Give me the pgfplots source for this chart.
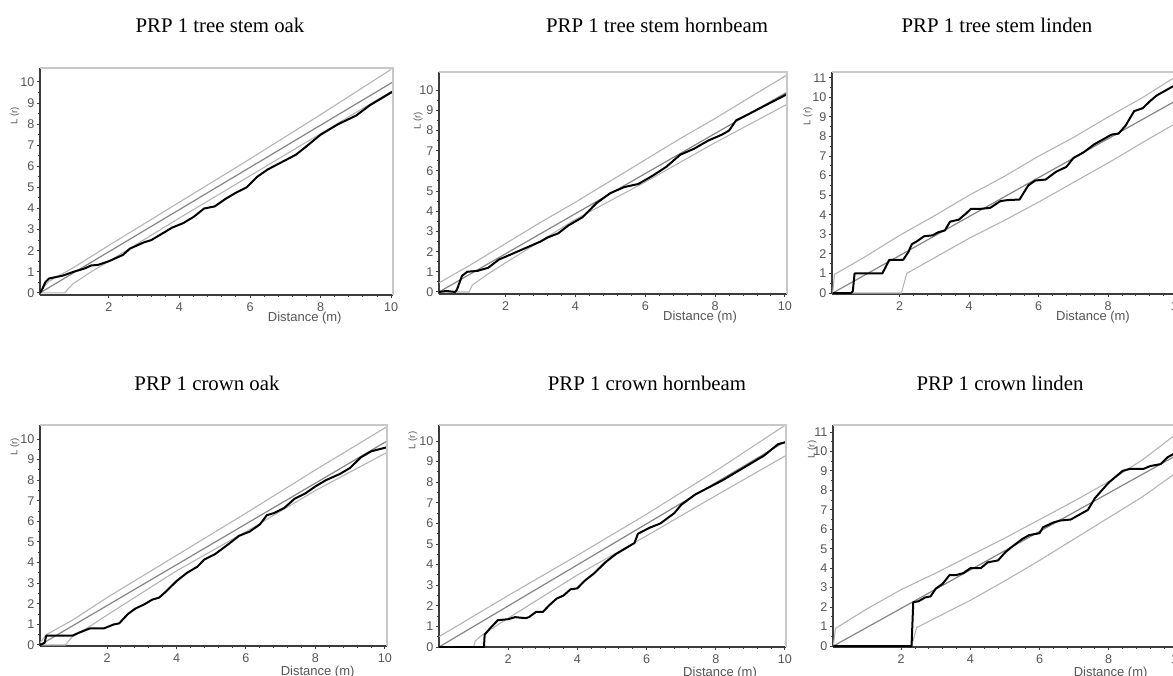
\documentclass[border=0pt]{standalone}
\usepackage{fontspec}
\setmainfont{Liberation Serif}
\newfontfamily\arialf{Liberation Sans}
\usepackage{pgfplots}
\pgfplotsset{compat=1.18}
\definecolor{env}{HTML}{B4B4B4}
\definecolor{expc}{HTML}{858585}
\definecolor{spine}{HTML}{3C3C3C}
\definecolor{lspine}{HTML}{C8C8C8}
\definecolor{tickc}{HTML}{555555}
\pgfplotsset{
  panel/.style={
    scale only axis,
    anchor=south west,
    axis x line*=bottom, axis y line*=left,
    axis line style={-, draw=spine, line width=0.9pt},
    tick align=outside,
    major tick length=1.6pt, minor tick length=0.9pt,
    every tick/.style={draw=spine, line width=0.5pt},
    xtick={2,4,6,8,10},
    minor x tick num=4,
    minor y tick num=1,
    /pgf/number format/assume math mode=true,
    tick label style={font=\arialf\fontsize{6.3}{7}\selectfont, text=tickc},
    xticklabel style={inner sep=1pt, yshift=-1.2pt},
    yticklabel style={inner sep=1pt},
    every axis x label/.style={font=\arialf\fontsize{6.5}{7}\selectfont, text=tickc, anchor=center},
    every axis y label/.style={font=\arialf\fontsize{4.8}{5}\selectfont, text=tickc, anchor=center, rotate=90},
    xlabel={Distance (m)}, ylabel={L (r)},
    clip=true,
    extra description/.code={\draw[lspine, line width=0.9pt] (axis description cs:0,1) -- (axis description cs:1,1) -- (axis description cs:1,0);},
  },
  envl/.style={env, line width=0.55pt},
  expl/.style={expc, line width=0.6pt},
  obsl/.style={black, line width=1.0pt, line join=round},
}
\begin{document}
\begin{tikzpicture}
\useasboundingbox (0,0) rectangle (586.5pt,337.5pt);
\clip (0,0) rectangle (586.5pt,337.5pt);
% titles
\node[font=\fontsize{10.4}{12}\selectfont] at (110pt,325pt) {PRP 1 tree stem oak};
\node[font=\fontsize{10.4}{12}\selectfont] at (328.5pt,325pt) {PRP 1 tree stem hornbeam};
\node[font=\fontsize{10.4}{12}\selectfont] at (498.5pt,325pt) {PRP 1 tree stem linden};
\node[font=\fontsize{10.4}{12}\selectfont] at (103.5pt,146pt) {PRP 1 crown oak};
\node[font=\fontsize{10.4}{12}\selectfont] at (323.5pt,146pt) {PRP 1 crown hornbeam};
\node[font=\fontsize{10.4}{12}\selectfont] at (500pt,146pt) {PRP 1 crown linden};

% ---------- Panel 1: tree stem oak
\begin{axis}[panel, at={(20pt,190pt)}, width=176.5pt, height=113.5pt,
  xmin=0.05, xmax=10.05, ymin=-0.1, ymax=10.66, ytick={0,1,...,10},
  xlabel style={at={(axis description cs:0.75,0)}, yshift=-11.5pt},
  ylabel style={at={(axis description cs:-0.071,0.79)}}]
\addplot[envl] coordinates {(0.05,0.05)(0.3,0.55)(1,1.2)(2,2.25)(4,4.3)(6,6.35)(8,8.45)(10,10.6)};
\addplot[envl] coordinates {(0.05,0)(0.75,0)(0.85,0.2)(1,0.45)(1.5,1.0)(2,1.5)(4,3.55)(6,5.55)(8,7.55)(10,9.55)};
\addplot[expl] coordinates {(0.05,0)(10.05,10.0)};
\addplot[obsl] coordinates {(0.05,0)(0.12,0.2)(0.2,0.5)(0.3,0.68)(0.5,0.75)(0.7,0.82)(1.0,1.0)(1.3,1.15)(1.5,1.3)(1.7,1.33)(2.0,1.5)(2.2,1.65)(2.4,1.8)(2.6,2.1)(2.8,2.25)(3.0,2.4)(3.2,2.5)(3.5,2.8)(3.8,3.1)(4.1,3.3)(4.4,3.6)(4.7,4.0)(5.0,4.1)(5.3,4.45)(5.6,4.75)(5.9,5.0)(6.2,5.5)(6.5,5.85)(6.9,6.2)(7.3,6.55)(7.6,6.95)(8.0,7.5)(8.5,8.0)(9.0,8.4)(9.4,8.9)(9.7,9.2)(10.05,9.55)};
\end{axis}

% ---------- Panel 2: tree stem hornbeam
\begin{axis}[panel, at={(219.5pt,190.5pt)}, width=174pt, height=111pt,
  xmin=0.09, xmax=10.06, ymin=-0.1, ymax=10.9, ytick={0,1,...,10},
  xlabel style={at={(axis description cs:0.75,0)}, yshift=-11.5pt},
  ylabel style={at={(axis description cs:-0.06,0.78)}}]
\addplot[envl] coordinates {(0.09,0.45)(1,1.35)(2,2.4)(3,3.45)(4,4.45)(5,5.5)(6,6.55)(7,7.6)(8,8.6)(9,9.65)(10.06,10.75)};
\addplot[envl] coordinates {(0.09,0)(0.95,0)(1.05,0.35)(1.5,0.9)(2,1.45)(4,3.6)(6,5.45)(8,7.4)(10.06,9.3)};
\addplot[expl] coordinates {(0.09,0)(10.06,9.9)};
\addplot[obsl] coordinates {(0.09,0)(0.3,0.05)(0.55,0.0)(0.6,0.1)(0.75,0.8)(0.9,1.0)(1.2,1.05)(1.5,1.2)(1.8,1.6)(2.2,1.9)(2.6,2.2)(3.0,2.5)(3.2,2.7)(3.5,2.9)(3.8,3.3)(4.2,3.7)(4.6,4.4)(5.0,4.9)(5.4,5.2)(5.8,5.35)(6.2,5.75)(6.6,6.2)(7.0,6.8)(7.4,7.1)(7.8,7.5)(8.2,7.8)(8.4,8.0)(8.6,8.5)(9.0,8.85)(9.5,9.3)(10.06,9.8)};
\end{axis}

% ---------- Panel 3: tree stem linden
\begin{axis}[panel, at={(416pt,190.5pt)}, width=174pt, height=111pt,
  xmin=0.05, xmax=10.07, ymin=-0.05, ymax=11.3, ytick={0,1,...,11},
  xlabel style={at={(axis description cs:0.75,0)}, yshift=-11.5pt},
  ylabel style={at={(axis description cs:-0.069,0.80)}}]
\addplot[envl] coordinates {(0.07,0)(0.12,0.95)(1,1.85)(2,2.95)(3,3.95)(4,5.0)(5,5.95)(6,7.0)(7,7.95)(8,9.0)(9,10.0)(10.07,11.2)};
\addplot[envl] coordinates {(0.07,0)(2.05,0)(2.2,1.0)(3,1.8)(4,2.8)(5,3.7)(6,4.65)(7,5.65)(8,6.65)(9,7.7)(10.07,8.8)};
\addplot[expl] coordinates {(0.07,0)(10.07,9.95)};
\addplot[obsl] coordinates {(0.07,0)(0.6,0)(0.65,0.1)(0.7,1.0)(1.5,1.0)(1.7,1.7)(2.1,1.7)(2.25,2.1)(2.35,2.5)(2.5,2.65)(2.7,2.9)(2.95,2.95)(3.1,3.1)(3.3,3.2)(3.45,3.65)(3.7,3.75)(3.9,4.05)(4.05,4.3)(4.3,4.3)(4.6,4.35)(4.9,4.7)(5.1,4.75)(5.45,4.78)(5.7,5.5)(5.9,5.75)(6.2,5.8)(6.5,6.2)(6.8,6.45)(7.0,6.9)(7.3,7.2)(7.6,7.6)(7.9,7.9)(8.1,8.1)(8.3,8.15)(8.5,8.55)(8.75,9.3)(9.0,9.45)(9.2,9.8)(9.4,10.1)(9.6,10.3)(9.8,10.5)(10.07,10.75)};
\end{axis}

% ---------- Panel 4: crown oak
\begin{axis}[panel, at={(20pt,14.5pt)}, width=173.5pt, height=110.5pt,
  xmin=0.07, xmax=10.06, ymin=-0.05, ymax=10.68, ytick={0,1,...,10},
  xlabel style={at={(axis description cs:0.80,0)}, yshift=-13pt},
  ylabel style={at={(axis description cs:-0.072,0.90)}}]
\addplot[envl] coordinates {(0.07,0.1)(0.25,0.5)(1,1.2)(2,2.3)(4,4.35)(6,6.4)(8,8.5)(10.06,10.6)};
\addplot[envl] coordinates {(0.07,0)(0.8,0)(1.0,0.4)(1.5,0.9)(2,1.45)(4,3.6)(6,5.5)(8,7.5)(10.06,9.35)};
\addplot[expl] coordinates {(0.07,0)(10.06,9.9)};
\addplot[obsl] coordinates {(0.07,0)(0.2,0.1)(0.25,0.45)(1.0,0.45)(1.2,0.6)(1.5,0.8)(1.9,0.8)(2.2,1.0)(2.35,1.05)(2.6,1.5)(2.8,1.75)(3.1,2.0)(3.3,2.2)(3.5,2.3)(3.7,2.6)(4.0,3.1)(4.3,3.5)(4.6,3.8)(4.8,4.15)(5.1,4.4)(5.5,4.9)(5.8,5.3)(6.1,5.5)(6.4,5.85)(6.6,6.3)(6.8,6.4)(7.1,6.65)(7.4,7.1)(7.7,7.35)(8.0,7.7)(8.3,8.0)(8.7,8.3)(9.0,8.6)(9.3,9.1)(9.6,9.4)(10.06,9.6)};
\end{axis}

% ---------- Panel 5: crown hornbeam
\begin{axis}[panel, at={(219.5pt,14pt)}, width=173.5pt, height=111pt,
  xmin=0, xmax=10.03, ymin=0, ymax=10.78, ytick={0,1,...,10},
  xlabel style={at={(axis description cs:0.81,0)}, yshift=-13pt},
  ylabel style={at={(axis description cs:-0.075,0.93)}}]
\addplot[envl] coordinates {(0,0.5)(1,1.5)(2,2.5)(4,4.45)(6,6.45)(8,8.55)(10.03,10.8)};
\addplot[envl] coordinates {(0,0)(1.0,0)(1.05,0.3)(1.3,0.65)(2,1.4)(4,3.5)(6,5.4)(8,7.35)(10.03,9.3)};
\addplot[expl] coordinates {(0,0)(10.03,10.0)};
\addplot[obsl] coordinates {(0,0)(1.3,0)(1.32,0.6)(1.5,0.95)(1.7,1.3)(2,1.35)(2.2,1.45)(2.5,1.4)(2.6,1.45)(2.8,1.7)(3.0,1.7)(3.2,2.05)(3.4,2.35)(3.6,2.5)(3.8,2.8)(4.0,2.85)(4.2,3.2)(4.5,3.6)(4.8,4.1)(5.1,4.5)(5.4,4.8)(5.65,5.05)(5.75,5.5)(6.1,5.8)(6.4,6.0)(6.8,6.5)(7.0,6.9)(7.4,7.4)(7.8,7.75)(8.2,8.1)(8.6,8.5)(9.0,8.9)(9.4,9.3)(9.8,9.85)(10.03,9.95)};
\end{axis}

% ---------- Panel 6: crown linden
\begin{axis}[panel, at={(416.5pt,14pt)}, width=173.5pt, height=111pt,
  xmin=0.03, xmax=10.06, ymin=-0.05, ymax=11.36, ytick={0,1,...,11},
  xlabel style={at={(axis description cs:0.80,0)}, yshift=-13pt},
  ylabel style={at={(axis description cs:-0.06,0.89)}}]
\addplot[envl] coordinates {(0.04,0)(0.1,0.9)(1,1.9)(2,2.9)(3,3.75)(4,4.65)(5,5.55)(6,6.5)(7,7.45)(8,8.45)(9,9.6)(10.06,11.05)};
\addplot[envl] coordinates {(0.04,0)(2.3,0)(2.45,0.95)(3,1.45)(4,2.35)(5,3.35)(6,4.4)(7,5.5)(8,6.6)(9,7.7)(10.06,9.05)};
\addplot[expl] coordinates {(0.04,0)(10.06,9.9)};
\addplot[obsl] coordinates {(0.04,0)(2.3,0)(2.35,2.25)(2.5,2.3)(2.7,2.5)(2.85,2.55)(3.0,2.95)(3.2,3.2)(3.4,3.65)(3.6,3.65)(3.8,3.75)(4.0,4.0)(4.3,4.0)(4.5,4.3)(4.8,4.4)(5.0,4.8)(5.2,5.1)(5.5,5.5)(5.7,5.7)(6.0,5.8)(6.1,6.1)(6.4,6.35)(6.6,6.45)(6.9,6.5)(7.2,6.8)(7.4,7.0)(7.6,7.6)(7.8,8.0)(8.0,8.4)(8.2,8.7)(8.4,9.0)(8.6,9.1)(9.0,9.1)(9.2,9.25)(9.5,9.35)(9.7,9.7)(9.9,9.9)(10.06,10.0)};
\end{axis}
\end{tikzpicture}
\end{document}
